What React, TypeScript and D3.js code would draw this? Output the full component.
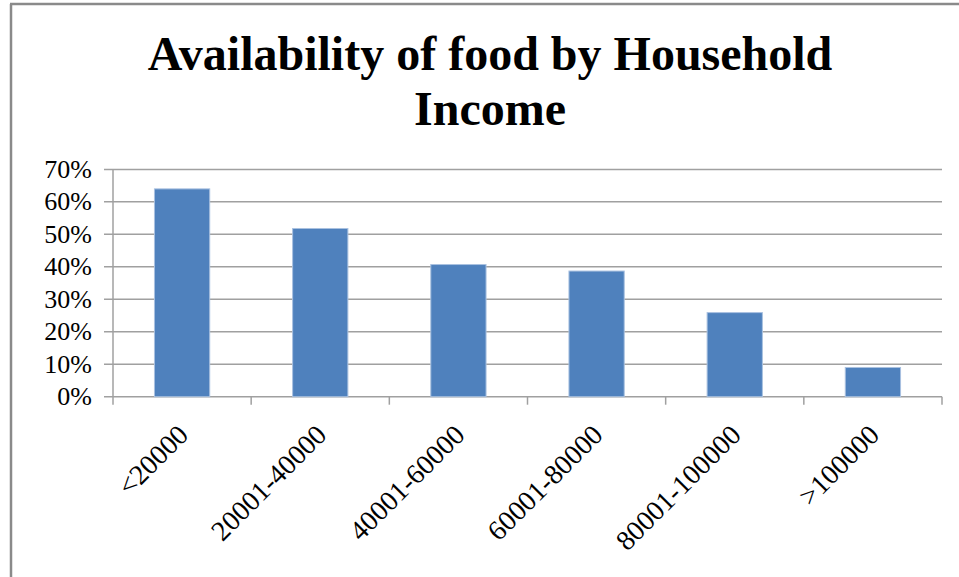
import React from "react";
import * as d3 from "d3";

const categories = ["<20000", "20001-40000", "40001-60000", "60001-80000", "80001-100000", ">100000"];
const values = [0.64, 0.518, 0.407, 0.387, 0.259, 0.09];
const yTicks = [0, 0.1, 0.2, 0.3, 0.4, 0.5, 0.6, 0.7];
const titleLines = ["Availability of food by Household", "Income"];

const W = 959;
const H = 577;
const plot = { left: 113, right: 942, top: 169.4, bottom: 396.7 };

export default function App() {
  const x = d3.scaleBand<string>().domain(categories).range([plot.left, plot.right]).paddingInner(0.6).paddingOuter(0.3);
  const xTick = d3.scaleBand<string>().domain(categories).range([plot.left, plot.right]);
  const y = d3.scaleLinear().domain([0, 0.7]).range([plot.bottom, plot.top]);
  const fmt = d3.format(".0%");
  const font = "'Liberation Serif', 'Times New Roman', serif";
  const grid = "#a0a0a0";

  return (
    <svg width={W} height={H} style={{ position: "absolute", left: 0, top: 0, background: "#fff" }} fontFamily={font}>
      <rect x={0} y={0} width={W} height={H} fill="#fff" />
      <line x1={10} y1={4} x2={W} y2={4} stroke="#8a8a8a" strokeWidth={2.5} />
      <line x1={11} y1={4} x2={11} y2={H} stroke="#8a8a8a" strokeWidth={2.5} />
      {titleLines.map((t, i) => (
        <text key={t} x={490} y={70 + i * 55} textAnchor="middle" fontSize={48} fontWeight="bold" fill="#000">
          {t}
        </text>
      ))}
      {yTicks.map((v) => (
        <g key={v}>
          <line x1={plot.left - 9} x2={plot.right} y1={y(v)} y2={y(v)} stroke={grid} strokeWidth={1.5} />
          <text x={92} y={y(v)} dy="0.33em" textAnchor="end" fontSize={26} fill="#000">
            {fmt(v)}
          </text>
        </g>
      ))}
      <line x1={plot.left} x2={plot.left} y1={plot.top} y2={plot.bottom + 8} stroke={grid} strokeWidth={1.5} />
      {categories.map((c) => (
        <line key={c} x1={(xTick(c) as number) + xTick.bandwidth()} x2={(xTick(c) as number) + xTick.bandwidth()} y1={plot.bottom} y2={plot.bottom + 8} stroke={grid} strokeWidth={1.5} />
      ))}
      {categories.map((c, i) => (
        <rect key={c} x={x(c)} y={y(values[i])} width={x.bandwidth()} height={plot.bottom - y(values[i])} fill="#4f81bd" stroke="#a9c1e0" strokeWidth={1} />
      ))}
      {categories.map((c) => {
        const cx = (xTick(c) as number) + xTick.bandwidth() / 2;
        return (
          <text key={c} transform={`translate(${cx - 6},${plot.bottom + 26}) rotate(-45)`} textAnchor="end" dy="0.7em" fontSize={28} fill="#000">
            {c}
          </text>
        );
      })}
    </svg>
  );
}
